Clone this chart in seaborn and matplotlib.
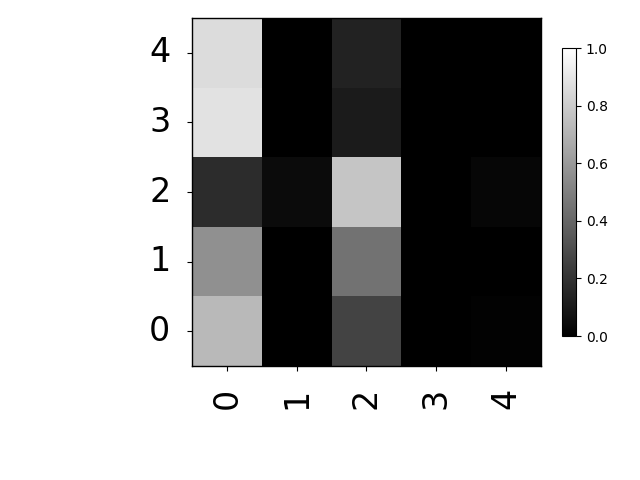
import numpy as np
import matplotlib
matplotlib.use("Agg")
import matplotlib.pyplot as plt
import seaborn as sns

labels = ["0", "1", "2", "3", "4"]

# row-normalised confusion matrix, row 0 first
row_0 = [0.725, 0.0, 0.265, 0.0, 0.010]
row_1 = [0.565, 0.0, 0.447, 0.0, 0.0]
row_2 = [0.173, 0.043, 0.770, 0.0, 0.024]
row_3 = [0.886, 0.0, 0.106, 0.0, 0.0]
row_4 = [0.863, 0.0, 0.133, 0.0, 0.0]

cm = np.array([row_0, row_1, row_2, row_3, row_4])

fig = plt.figure(figsize=(6.4, 4.8), dpi=100)
ax = fig.add_axes([0.3, 0.2375, 0.5453, 0.725])
cax = fig.add_axes([0.878, 0.3, 0.022, 0.6])

sns.heatmap(cm, cmap="gray", vmin=0, vmax=1, ax=ax, cbar_ax=cax,
            xticklabels=labels, yticklabels=labels, square=False)
ax.invert_yaxis()

for s in ax.spines.values():
    s.set_visible(True)
    s.set_linewidth(1)
ax.tick_params(axis="both", length=3.5, width=0.8, labelsize=24, pad=12)
ax.set_xticklabels(labels, rotation=90)
ax.set_yticklabels(labels, rotation=0)

cb = ax.collections[0].colorbar
cb.outline.set_linewidth(0.8)
cb.set_ticks([0, 0.2, 0.4, 0.6, 0.8, 1.0])
cb.ax.tick_params(labelsize=10, length=3.5, width=0.8)

fig.savefig("out.png", dpi=100)
